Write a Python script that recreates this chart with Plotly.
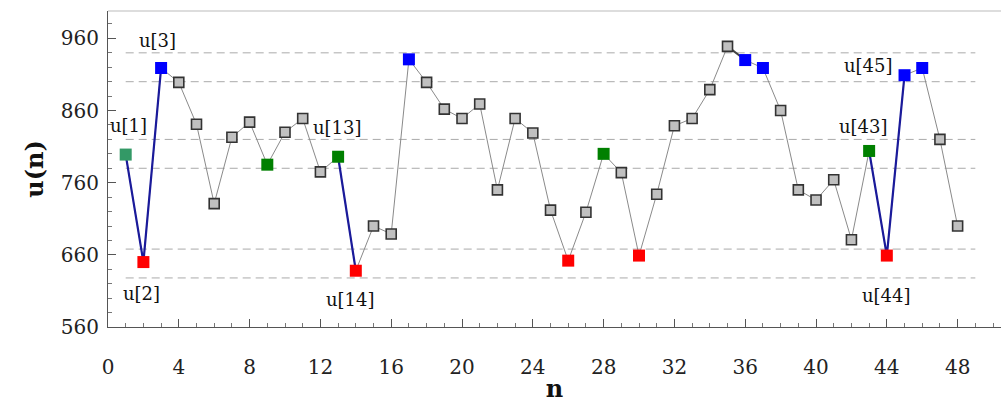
import plotly.graph_objects as go

n = list(range(1, 49))
u = [799, 650, 919, 899, 841, 731, 823, 844, 785, 830, 849, 775, 796, 638, 700, 689,
     931, 899, 862, 849, 869, 750, 849, 829, 722, 652, 719, 800, 774, 659, 744, 839,
     849, 889, 949, 930, 919, 860, 750, 736, 764, 681, 804, 659, 909, 919, 820, 700]

first_pts = [1]
red_pts = [2, 14, 26, 30, 44]
blue_pts = [3, 17, 36, 37, 45, 46]
green_pts = [9, 13, 28, 43]
blue_segments = [[1, 2, 3], [13, 14], [43, 44, 45]]
dark_segments = [[35, 36]]
thresholds = [940, 900, 820, 780, 668, 628]
labels = [(1, 3, 29), (2, -2, -31), (3, -4, 28), (13, -1, 29), (14, -5, -29),
          (43, -6, 24), (44, 0, -40), (45, -36, 10)]

yticks = [560, 660, 760, 860, 960]
xticks = list(range(0, 49, 4))

val = dict(zip(n, u))
FONT = "DejaVu Serif"

fig = go.Figure()

fig.add_trace(go.Scatter(x=n, y=u, mode="lines", line=dict(color="#8a8a8a", width=1),
                         hoverinfo="skip", showlegend=False))
for seg in dark_segments:
    fig.add_trace(go.Scatter(x=seg, y=[val[i] for i in seg], mode="lines",
                             line=dict(color="#444444", width=2), showlegend=False))
for seg in blue_segments:
    fig.add_trace(go.Scatter(x=seg, y=[val[i] for i in seg], mode="lines",
                             line=dict(color="#1a1a9a", width=2.2), showlegend=False))

special = set(first_pts + red_pts + blue_pts + green_pts)
gray = [i for i in n if i not in special]
fig.add_trace(go.Scatter(x=gray, y=[val[i] for i in gray], mode="markers",
                         marker=dict(symbol="square", size=10, color="#c0c0c0",
                                     line=dict(color="#333333", width=1.6)),
                         showlegend=False))
for pts, col in [(first_pts, "#339966"), (red_pts, "#ff0000"),
                 (blue_pts, "#0000ff"), (green_pts, "#008000")]:
    fig.add_trace(go.Scatter(x=pts, y=[val[i] for i in pts], mode="markers",
                             marker=dict(symbol="square", size=12, color=col,
                                         line=dict(width=0)),
                             showlegend=False))

shapes = []
for t in thresholds:
    shapes.append(dict(type="line", xref="x", yref="y", x0=1, x1=49, y0=t, y1=t,
                       line=dict(color="#aaaaaa", width=1, dash="8px,5px"), layer="below"))
shapes.append(dict(type="line", xref="paper", yref="paper", x0=0, x1=1, y0=1, y1=1,
                   line=dict(color="#bbbbbb", width=1)))
annotations = []
for i, dx, dy in labels:
    annotations.append(dict(x=i, y=val[i], xref="x", yref="y", text=f"u[{i}]",
                            showarrow=False, xshift=dx, yshift=dy,
                            font=dict(family=FONT, size=18, color="#111111")))

fig.update_layout(
    width=1001, height=403,
    margin=dict(l=108, r=0, t=11, b=76),
    plot_bgcolor="white", paper_bgcolor="white",
    shapes=shapes, annotations=annotations,
    xaxis=dict(range=[0, 50.45], tickvals=xticks, ticks="inside", ticklen=8,
               tickcolor="#555555", showgrid=False, zeroline=False,
               showline=True, linecolor="#555555", linewidth=1.2,
               ticklabelstandoff=22, automargin=False,
               tickfont=dict(family=FONT, size=20, color="#222222"),
               minor=dict(dtick=1, tick0=0, ticks="inside", ticklen=4, tickcolor="#777777"),
               title=dict(text="<b>n</b>", font=dict(family=FONT, size=24, color="#111111"),
                          standoff=9)),
    yaxis=dict(range=[560, 998], tickvals=yticks, ticks="inside", ticklen=8,
               tickcolor="#555555", showgrid=False, zeroline=False,
               showline=True, linecolor="#555555", linewidth=1.2,
               ticklabelstandoff=4, automargin=False,
               tickfont=dict(family=FONT, size=20, color="#222222"),
               minor=dict(dtick=20, tick0=560, ticks="inside", ticklen=4, tickcolor="#777777"),
               title=dict(text="<b>u(n)</b>", font=dict(family=FONT, size=24, color="#111111"),
                          standoff=10)),
)

fig.write_html("out.html")
